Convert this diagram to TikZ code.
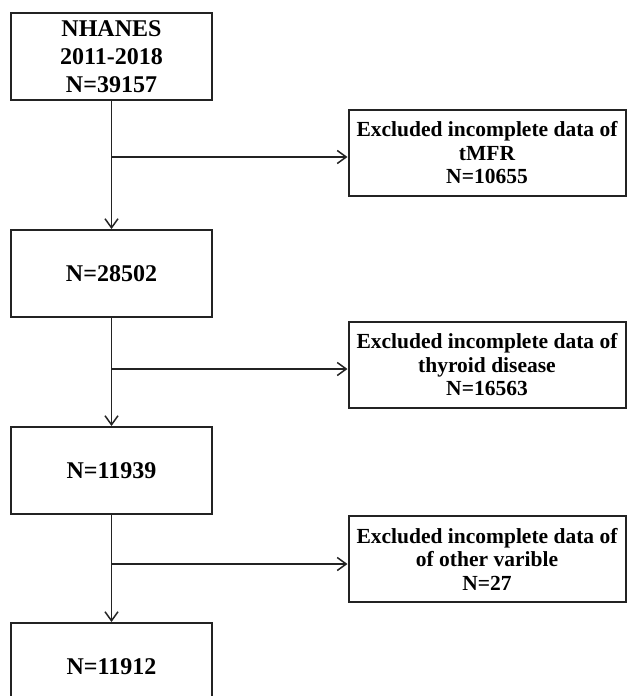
\documentclass[tikz,border=0pt]{standalone}
\usepackage{fontspec}
\setmainfont{Liberation Serif}
\usepackage{tikz}
\usetikzlibrary{positioning,arrows.meta}
\definecolor{ink}{RGB}{35,35,35}

\begin{document}
\begin{tikzpicture}[
  x=1pt,y=-1pt,
  stage/.style={draw=ink,line width=2pt,minimum width=201pt,minimum height=87pt,
                align=center,inner sep=0pt,font=\fontsize{24}{28}\selectfont\bfseries},
  side/.style={draw=ink,line width=2pt,minimum width=277pt,minimum height=86pt,
               align=center,inner sep=0pt,font=\fontsize{21.5}{23.5}\selectfont\bfseries},
  ar/.style={-{Straight Barb[length=9pt,width=13pt]},line width=1.5pt,ink},
]
\useasboundingbox (0,0) rectangle (627,696);

\node[stage] (b1) at (111.5,56.5) {NHANES\\2011-2018\\N=39157};
\node[stage,below=128pt of b1] (b2) {N=28502};
\node[stage,below=108pt of b2] (b3) {N=11939};
\node[stage,below=107pt of b3] (b4) {N=11912};

\coordinate (j1) at ([yshift=-56pt]b1.south);
\coordinate (j2) at ([yshift=-51pt]b2.south);
\coordinate (j3) at ([yshift=-49pt]b3.south);

\node[side,right=236pt of j1,yshift=4pt] (r1) {Excluded incomplete data of\\tMFR\\N=10655};
\node[side,right=236pt of j2,yshift=4pt] (r2) {Excluded incomplete data of\\thyroid disease\\N=16563};
\node[side,right=236pt of j3,yshift=5pt] (r3) {Excluded incomplete data of\\of other varible\\N=27};

\draw[ar] (b1) -- (b2);
\draw[ar] (b2) -- (b3);
\draw[ar] (b3) -- (b4);
\draw[ar] (j1) -- (j1 -| r1.west);
\draw[ar] (j2) -- (j2 -| r2.west);
\draw[ar] (j3) -- (j3 -| r3.west);
\end{tikzpicture}
\end{document}
